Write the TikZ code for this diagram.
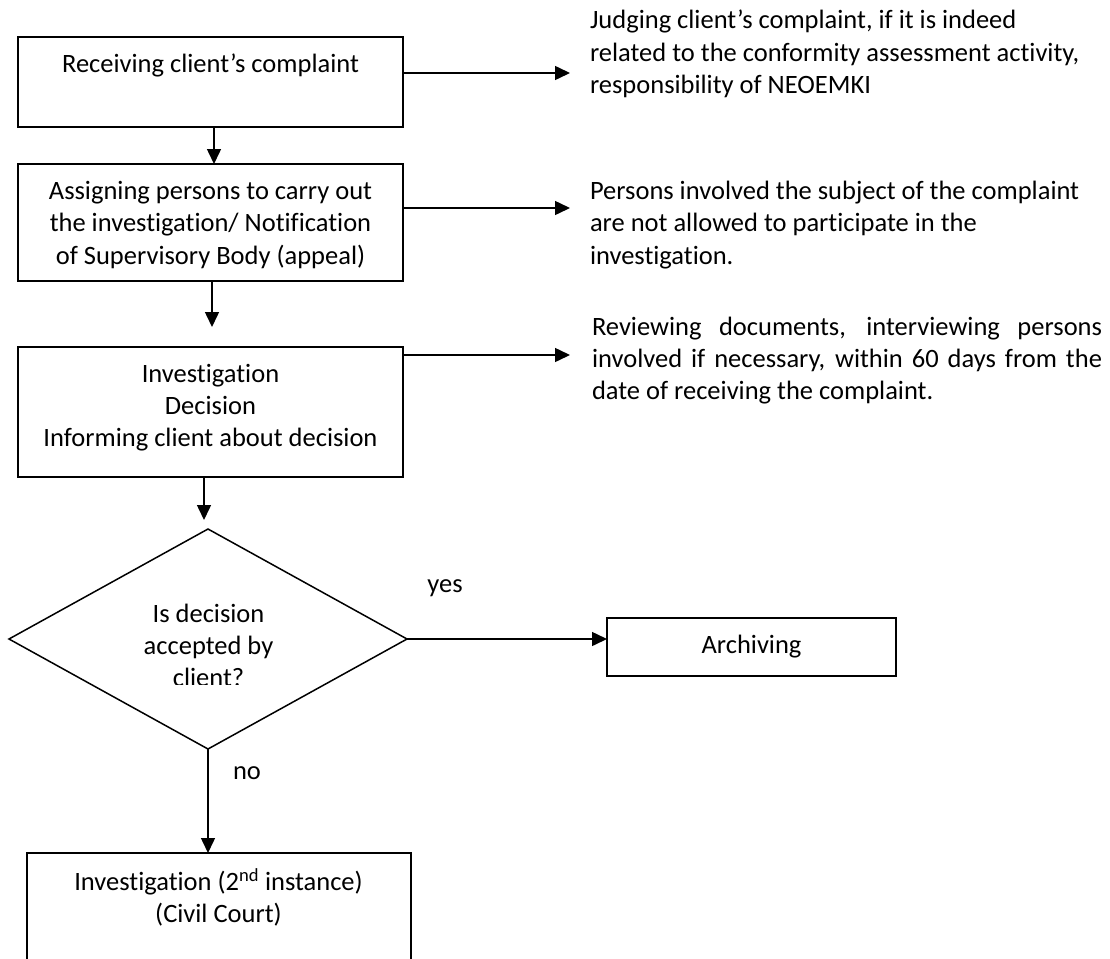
\documentclass[tikz,border=0pt]{standalone}
\usepackage{fontspec}
\setmainfont{Carlito}[Ligatures=NoCommon]
\usetikzlibrary{arrows.meta,shapes.geometric}
\begin{document}
\begin{tikzpicture}[x=1pt,y=-1pt,
  every node/.style={font=\fontsize{26.5}{32.3}\selectfont, inner sep=0pt, outer sep=0pt},
  boxst/.style={draw, line width=1.8pt, rectangle},
  arr/.style={line width=1.5pt, -{Triangle[length=15pt,width=14pt]}},
  lbl/.style={align=left, anchor=west},
]
\useasboundingbox (0,0) rectangle (1110,958);
\clip (0,0) rectangle (1110,958);

% boxes
\node[boxst, minimum width=385pt, minimum height=90pt]  (b1) at (210.5,82) {};
\node[boxst, minimum width=385pt, minimum height=117pt] (b2) at (210.5,222.5) {};
\node[boxst, minimum width=385pt, minimum height=130pt] (b3) at (210.5,412) {};
\node[boxst, minimum width=289pt, minimum height=58pt]  (arch) at (751.5,647) {Archiving};
\node[boxst, minimum width=384pt, minimum height=147pt] (b4) at (219,926.5) {};
\node[draw, diamond, line width=1.5pt, minimum width=398pt, minimum height=220pt] (d) at (208,639) {};

% box texts
\node[align=center] (t1) at (210.5,65) {Receiving client’s complaint};
\node[align=center] (t2) at (210.5,225) {Assigning persons to carry out\\the investigation/ Notification\\of Supervisory Body (appeal)};
\node[align=center] (t3) at (210.5,407.5) {Investigation\\Decision\\Informing client about decision};
\begin{scope}
  \clip (0,0) rectangle (1110,684);
  \node[align=center] (td) at (208.5,645.5) {Is decision\\accepted by\\client?};
\end{scope}
\node[align=center] (t4) at (218.5,897.5) {Investigation (2\textsuperscript{nd} instance)\\(Civil Court)};

% side notes
\node[lbl] (n1) at (590,54) {Judging client’s complaint, if it is indeed\\related to the conformity assessment activity,\\responsibility of NEOEMKI};
\node[lbl] (n2) at (590,225) {Persons involved the subject of the complaint\\are not allowed to participate in the\\investigation.};
\node[lbl] (n3) at (592,360.5) {\makebox[510pt][s]{Reviewing documents, interviewing persons}\\\makebox[510pt][s]{involved if necessary, within 60 days from the}\\date of receiving the complaint.};

\node (yes) at (445,588) {yes};
\node (no) at (247,773) {no};

% connectors
\coordinate (r1) at (570,73);
\coordinate (r2) at (570,208);
\coordinate (r3) at (570,355);
\draw[arr] (b1.east |- r1) -- (r1);
\draw[arr] (b2.east |- r2) -- (r2);
\draw[arr] (b3.east |- r3) -- (r3);

\draw[arr] ([xshift=3.5pt]b1.south) -- ([xshift=3.5pt]b2.north);
\coordinate (c23) at (212,327);
\draw[arr] (b2.south -| c23) -- (c23);
\coordinate (c3d) at (204,520);
\draw[arr] (b3.south -| c3d) -- (c3d);
\draw[arr] (d.east) -- (d.east -| arch.west);
\draw[arr] (d.south) -- (d.south |- b4.north);
\end{tikzpicture}
\end{document}
